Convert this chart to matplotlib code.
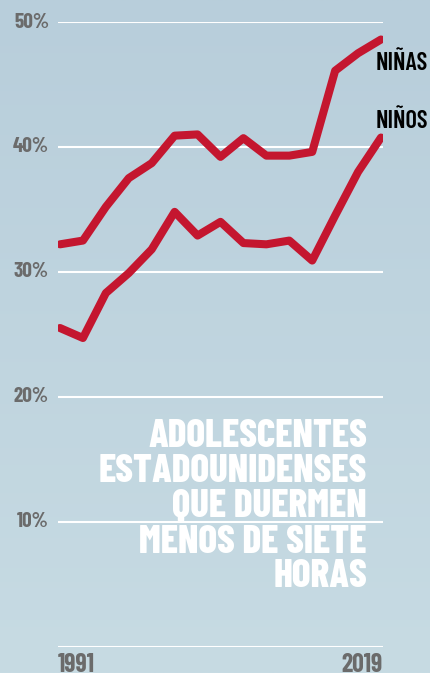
import matplotlib
matplotlib.use("Agg")
import matplotlib.pyplot as plt
import numpy as np
from matplotlib.colors import LinearSegmentedColormap

years = [1991, 1993, 1995, 1997, 1999, 2001, 2003, 2005, 2007, 2009, 2011, 2013, 2015, 2017, 2019]
girls = [32.2, 32.5, 35.2, 37.5, 38.7, 40.9, 41.0, 39.2, 40.7, 39.3, 39.3, 39.6, 46.1, 47.5, 48.6]
boys = [25.5, 24.7, 28.3, 29.9, 31.8, 34.8, 32.9, 34.0, 32.3, 32.2, 32.5, 30.9, 34.5, 38.0, 40.75]
yticks = [0, 10, 20, 30, 40, 50]
ytick_labels = ["", "10%", "20%", "30%", "40%", "50%"]
title_lines = ["ADOLESCENTES", "ESTADOUNIDENSES", "QUE DUERMEN", "MENOS DE SIETE", "HORAS"]
series_labels = ["NIÑAS", "NIÑOS"]
x_labels = ["1991", "2019"]

W, H = 431, 673
DPI = 100
fig = plt.figure(figsize=(W / DPI, H / DPI), dpi=DPI)

FONT = ["Barlow Condensed", "DejaVu Sans"]
RED = "#c4162f"
GRAY = "#6b6b6b"

bg = fig.add_axes([0, 0, 1, 1], zorder=0)
cmap = LinearSegmentedColormap.from_list("bg", ["#b8cedb", "#c7dbe3"])
grad = np.linspace(0, 1, 256).reshape(-1, 1)
bg.imshow(grad, aspect="auto", cmap=cmap, extent=[0, 1, 0, 1], origin="upper")
bg.set_axis_off()

def fx(px):
    return px / W

def fy(py):
    return (H - py) / H

renderer = fig.canvas.get_renderer()

def fit_size(text, target_w, weight=700):
    t = fig.text(0, 0, text, fontsize=10, fontweight=weight, family=FONT)
    w = t.get_window_extent(renderer).width
    t.remove()
    return 10 * target_w / w

left_px, right_px = 58, 383
y0_px, y50_px = 646.5, 22
ax = fig.add_axes([fx(left_px), fy(y0_px), fx(right_px) - fx(left_px), fy(y50_px) - fy(y0_px)], zorder=1)
ax.patch.set_alpha(0)
ppy = (381 - 60) / 28.0
ax.set_xlim(1991 - (60 - left_px) / ppy, 2019 + (right_px - 381) / ppy)
ax.set_ylim(0, 50)
for s in ax.spines.values():
    s.set_visible(False)
ax.set_xticks([])
ax.set_yticks([])

for t in yticks:
    ax.axhline(t, color="white", lw=1.5, zorder=1)

for vals in (girls, boys):
    ax.plot(years, vals, color=RED, lw=5.8, solid_capstyle="round", solid_joinstyle="round", zorder=3)

tick_fs = fit_size("50%", 35)
for t, lab in zip(yticks, ytick_labels):
    if lab:
        py = y0_px - (y0_px - y50_px) * t / 50.0
        fig.text(fx(49), fy(py), lab, ha="right", va="center", color=GRAY,
                 fontsize=tick_fs, fontweight=700, family=FONT, zorder=5)

yr_fs = fit_size("1991", 37)
fig.text(fx(58), fy(653), x_labels[0], ha="left", va="top", color=GRAY,
         fontsize=yr_fs, fontweight=700, family=FONT, zorder=5)
fig.text(fx(383), fy(653), x_labels[1], ha="right", va="top", color=GRAY,
         fontsize=yr_fs, fontweight=700, family=FONT, zorder=5)

lab_fs = fit_size("NIÑAS", 52, 600)
fig.text(fx(376), fy(70), series_labels[0], ha="left", va="baseline", color="black",
         fontsize=lab_fs, fontweight=600, family=FONT, zorder=5)
fig.text(fx(376), fy(128), series_labels[1], ha="left", va="baseline", color="black",
         fontsize=lab_fs, fontweight=600, family=FONT, zorder=5)

title_fs = fit_size("ESTADOUNIDENSES", 267, 800)
baselines = [447, 482, 517, 553, 587]
for line, b in zip(title_lines, baselines):
    fig.text(fx(367), fy(b), line, ha="right", va="baseline", color="white",
             fontsize=title_fs, fontweight=800, family=FONT, zorder=5)

fig.savefig("out.png", dpi=DPI)
